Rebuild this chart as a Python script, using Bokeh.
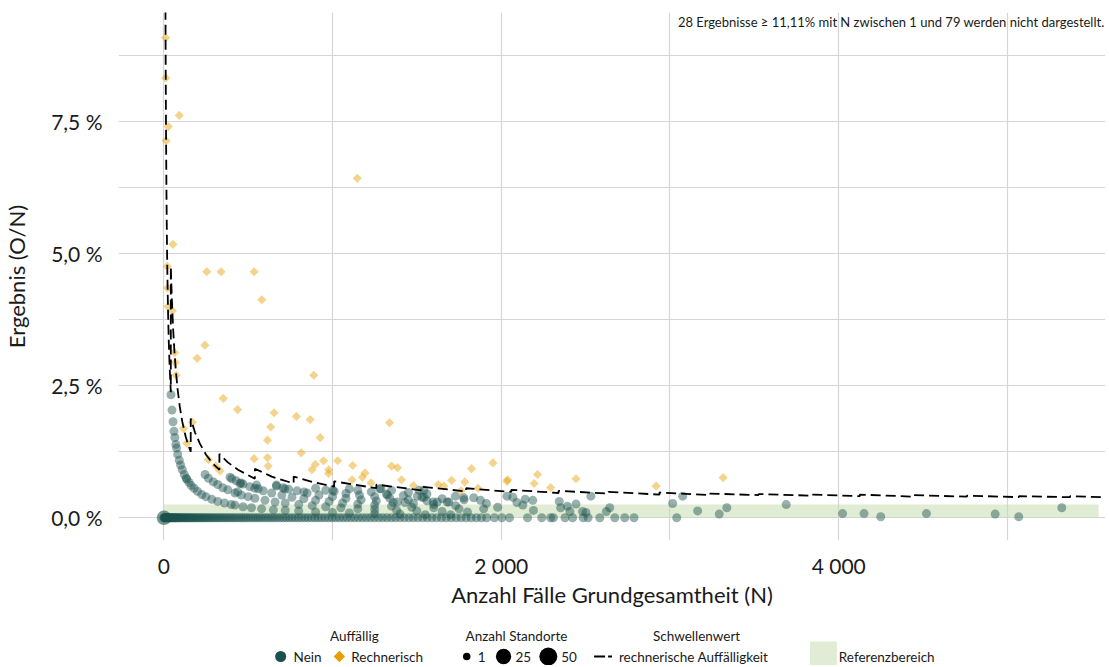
from bokeh.plotting import figure
from bokeh.models import Range1d, FixedTicker, Label, CustomJSTickFormatter
from bokeh.layouts import column
from bokeh.embed import file_html
from bokeh.resources import INLINE
from bokeh.core.properties import value
import math

# ---------------- data ----------------
# "Nein" (not conspicuous) results: N and result in %
nein_zero_n = [1, 3, 5, 8, 10, 13, 16, 19, 22, 26, 30, 33, 37, 41, 45, 50, 54, 59, 63, 68,
               73, 78, 84, 89, 95, 101, 107, 113, 120, 127, 133, 140, 148, 155, 163, 170, 178,
               186, 195, 203, 212, 221, 230, 239, 249, 258, 268, 278, 289, 299, 310, 321, 333,
               344, 356, 368, 380, 393, 405, 418, 431, 445, 458, 472, 486, 500, 515, 530, 545,
               560, 575, 591, 607, 623, 640, 656, 673, 690, 708, 725, 743, 761, 780, 798, 817,
               836, 855, 875, 895, 915, 935, 956, 977, 998, 1020, 1041, 1063, 1085, 1108, 1131,
               1154, 1177, 1201, 1225, 1249, 1274, 1298, 1323, 1349, 1374, 1400, 1426, 1453,
               1479, 1506, 1534, 1561, 1589, 1617, 1646, 1674, 1703, 1733, 1762, 1792, 1822,
               1853, 1883, 1914, 1960, 2004, 2049, 2156, 2240, 2293, 2309, 2378, 2423, 2486,
               2515, 2584, 2673, 2732, 2787, 3040]
nein_zero_pct = [0, 0, 0, 0, 0, 0, 0, 0, 0, 0, 0, 0, 0, 0, 0, 0, 0, 0, 0, 0,
                 0, 0, 0, 0, 0, 0, 0, 0, 0, 0, 0, 0, 0, 0, 0, 0, 0,
                 0, 0, 0, 0, 0, 0, 0, 0, 0, 0, 0, 0, 0, 0, 0, 0,
                 0, 0, 0, 0, 0, 0, 0, 0, 0, 0, 0, 0, 0, 0, 0, 0,
                 0, 0, 0, 0, 0, 0, 0, 0, 0, 0, 0, 0, 0, 0, 0, 0,
                 0, 0, 0, 0, 0, 0, 0, 0, 0, 0, 0, 0, 0, 0, 0,
                 0, 0, 0, 0, 0, 0, 0, 0, 0, 0, 0, 0, 0,
                 0, 0, 0, 0, 0, 0, 0, 0, 0, 0, 0, 0, 0,
                 0, 0, 0, 0, 0, 0, 0, 0, 0, 0, 0, 0, 0,
                 0, 0, 0, 0, 0, 0]

nein_n = [43, 49, 55, 61, 66, 72, 76, 83, 92, 100, 110, 122, 133, 137, 150, 163, 180, 200, 226,
          250, 285, 320, 360, 400, 422, 470, 520, 580, 650, 720, 800, 900, 1000, 1100, 1250,
          1400, 1550, 1700,
          245, 265, 294, 320, 350, 380, 422, 460, 500, 540, 600, 660, 720, 800, 880, 960, 1050,
          1150, 1250, 1380, 1500, 1650, 1800,
          403, 430, 470, 510, 540, 590, 640, 700, 760, 830, 900, 980, 1060, 1150, 1250, 1350,
          1470, 1600, 1750,
          668, 707, 740, 790, 850, 920, 1000, 1080, 1170, 1260, 1360, 1480, 1600, 1730,
          900, 960, 1010, 1080, 1160, 1250, 1340, 1450, 1560, 1690,
          1100, 1150, 1230, 1320, 1420, 1530, 1650, 1780,
          1280, 1350, 1450, 1560,
          393, 452, 550, 668, 717, 831, 1002, 1287, 1326, 1513, 1542, 438, 458, 560,
          1385, 1430, 1503, 1542, 1597, 1621, 1680, 1729, 1778, 1837, 1877, 1896, 1912, 1979,
          2034, 2069, 2093, 2128, 2142, 2187, 2191, 2344, 2352, 2392, 2407, 2443, 2482, 2502,
          2531, 2623, 2643, 3016, 3075, 3164, 3292, 3337, 3689, 4023, 4150, 4249, 4520, 4927,
          5067, 5322]
nein_pct = [2.33, 2.04, 1.82, 1.64, 1.52, 1.39, 1.32, 1.20, 1.09, 1.00, 0.91, 0.82, 0.75, 0.73,
            0.67, 0.61, 0.56, 0.50, 0.44, 0.40, 0.35, 0.31, 0.28, 0.25, 0.24, 0.21, 0.19, 0.17,
            0.15, 0.14, 0.13, 0.11, 0.10, 0.09, 0.08, 0.07, 0.06, 0.06,
            0.82, 0.75, 0.68, 0.63, 0.57, 0.53, 0.47, 0.43, 0.40, 0.37, 0.33, 0.30, 0.28, 0.25,
            0.23, 0.21, 0.19, 0.17, 0.16, 0.14, 0.13, 0.12, 0.11,
            0.74, 0.70, 0.64, 0.59, 0.56, 0.51, 0.47, 0.43, 0.39, 0.36, 0.33, 0.31, 0.28, 0.26,
            0.24, 0.22, 0.20, 0.19, 0.17,
            0.60, 0.57, 0.54, 0.51, 0.47, 0.43, 0.40, 0.37, 0.34, 0.32, 0.29, 0.27, 0.25, 0.23,
            0.56, 0.52, 0.50, 0.46, 0.43, 0.40, 0.37, 0.34, 0.32, 0.30,
            0.55, 0.52, 0.49, 0.45, 0.42, 0.39, 0.36, 0.34,
            0.55, 0.52, 0.48, 0.45,
            0.77, 0.65, 0.62, 0.62, 0.55, 0.49, 0.52, 0.55, 0.43, 0.52, 0.39, 0.49, 0.66, 0.55,
            0.30, 0.29, 0.41, 0.52, 0.30, 0.30, 0.30, 0.41, 0.38, 0.38, 0.33, 0.17, 0.27, 0.20,
            0.41, 0.39, 0.29, 0.24, 0.35, 0.33, 0.14, 0.31, 0.19, 0.22, 0.12, 0.26, 0.12, 0.10,
            0.41, 0.12, 0.19, 0.27, 0.41, 0.13, 0.07, 0.19, 0.25, 0.08, 0.08, 0.02, 0.08, 0.07,
            0.02, 0.19]

# results shared by many sites (Anzahl Standorte)
multi_n = [2]
multi_pct = [0.0]
multi_sites = [20]

# "Rechnerisch" (conspicuous) results
rech_n = [11, 12, 27, 14, 92, 55, 21, 255, 340, 536, 581, 23, 25, 51, 244, 198, 64, 68, 74,
          353, 438, 889, 1147, 654, 786, 868, 634, 615, 927, 815, 536, 615, 619, 878, 898, 947,
          1031, 1120, 978, 977, 1193, 1177, 1116, 1228, 1338, 1350, 1385, 1409, 1480, 1627,
          1660, 1706, 1762, 1784, 1824, 1863, 1951, 2034, 2038, 2195, 2215, 2293, 2443, 2918,
          3315, 265, 308, 334, 117, 137, 170]
rech_pct = [9.09, 8.33, 7.41, 7.14, 7.62, 5.18, 4.76, 4.66, 4.66, 4.66, 4.13, 4.35, 4.00, 3.92,
            3.27, 3.02, 3.13, 2.94, 2.70, 2.26, 2.05, 2.70, 6.43, 1.99, 1.92, 1.86, 1.72, 1.47,
            1.52, 1.23, 1.12, 1.14, 0.98, 0.91, 1.01, 1.08, 1.08, 0.99, 0.91, 0.84, 0.85, 0.77,
            0.72, 0.66, 1.80, 0.98, 0.95, 0.72, 0.61, 0.63, 0.60, 0.71, 0.51, 0.68, 0.93, 0.56,
            1.04, 0.69, 0.72, 0.65, 0.82, 0.57, 0.74, 0.60, 0.76, 1.10, 0.98, 0.89, 1.69, 1.41,
            1.81]

# threshold "rechnerische Auffälligkeit" (step-wise)
thr_n = [10.4, 11, 12, 13, 14, 16, 18, 20, 23, 26, 30, 35, 42,
         42, 46, 50, 56, 63, 72, 82, 95, 110, 130, 145, 160,
         160, 185, 215, 250, 290, 330,
         330, 380, 440, 540,
         540, 640, 770,
         770, 880, 1010,
         1010, 1260, 1260, 1525, 1525, 1792, 1792, 2060, 2060, 2340, 2340, 2635, 2635, 2938,
         2938, 3228, 3228, 3525, 3525, 3828, 3828, 4125, 4125, 4445, 4445, 4760, 4760, 5068,
         5068, 5371, 5371, 5560]
thr_pct = [9.62, 9.09, 8.33, 7.69, 7.14, 6.25, 5.56, 5.00, 4.35, 3.85, 3.33, 2.86, 2.38,
           4.76, 4.35, 4.00, 3.57, 3.17, 2.78, 2.44, 2.11, 1.82, 1.54, 1.38, 1.25,
           1.88, 1.62, 1.40, 1.20, 1.03, 0.91,
           1.21, 1.05, 0.91, 0.74,
           0.93, 0.78, 0.65,
           0.78, 0.68, 0.59,
           0.69, 0.56, 0.63, 0.52, 0.59, 0.50, 0.56, 0.49, 0.53, 0.47, 0.51, 0.46, 0.49, 0.44,
           0.48, 0.43, 0.46, 0.43, 0.45, 0.42, 0.44, 0.41, 0.44, 0.40, 0.43, 0.40, 0.42, 0.39,
           0.41, 0.39, 0.41, 0.39]

# reference range (Referenzbereich)
ref_n = [0, 5540]
ref_pct = [0.0, 0.25]

x_ticks = [0, 2000, 4000]
x_minor = [1000, 3000, 5000]
y_ticks = [0, 2.5, 5.0, 7.5]
y_minor = [1.25, 3.75, 6.25, 8.75]

note_text = "28 Ergebnisse ≥ 11,11% mit N zwischen 1 und 79 werden nicht dargestellt."

# ---------------- style ----------------
FONT = "Lato"
TEAL = "#1b514d"
ORANGE = "#E69F00"
GREEN = "#c9ddb1"
GRID = "#d6d6d6"
TXT = "#1a1a1a"

def site_size(s):
    return 9 + 9 * math.sqrt((s - 1) / 49.0)

x_start, x_end = -268, 5581
y_start, y_end = -0.43, 9.57
FL, FR = 113, 1105   # frame left / right in page pixels
MH = 610

p = figure(width=1109, height=MH, x_range=Range1d(x_start, x_end),
           y_range=Range1d(y_start, y_end), output_backend="svg", toolbar_location=None,
           min_border_left=FL, min_border_right=1109 - FR, min_border_top=12,
           min_border_bottom=MH - 540)
p.outline_line_color = None
p.background_fill_color = "white"
p.border_fill_color = "white"

xt = FixedTicker(ticks=x_ticks, minor_ticks=x_minor)
yt = FixedTicker(ticks=y_ticks, minor_ticks=y_minor)
p.xaxis.ticker = xt
p.yaxis.ticker = yt
p.xgrid.ticker = xt
p.ygrid.ticker = yt
for g in (p.xgrid, p.ygrid):
    g.grid_line_color = GRID
    g.grid_line_width = 1.2
    g.minor_grid_line_color = GRID
    g.minor_grid_line_width = 1.2

p.xaxis.formatter = CustomJSTickFormatter(
    code="return Math.round(tick).toString().replace(/\\B(?=(\\d{3})+(?!\\d))/g, ' ');")
p.yaxis.formatter = CustomJSTickFormatter(
    code="return tick.toFixed(1).replace('.', ',') + ' %';")

for ax in (p.xaxis, p.yaxis):
    ax.axis_line_color = None
    ax.major_tick_line_color = None
    ax.minor_tick_line_color = None
    ax.major_tick_out = 0
    ax.minor_tick_out = 0
    ax.major_label_text_font = FONT
    ax.major_label_text_font_size = "21px"
    ax.major_label_text_color = TXT
    ax.axis_label_text_font = FONT
    ax.axis_label_text_font_size = "22px"
    ax.axis_label_text_font_style = "normal"
    ax.axis_label_text_color = TXT

p.xaxis.axis_label = "Anzahl Fälle Grundgesamtheit (N)"
p.yaxis.axis_label = "Ergebnis (O/N)"
p.xaxis.major_label_standoff = 12
p.xaxis.axis_label_standoff = 0
p.yaxis.major_label_standoff = 16
p.yaxis.axis_label_standoff = 18

# reference band
p.quad(left=[ref_n[0]], right=[ref_n[1]], bottom=[ref_pct[0]], top=[ref_pct[1]],
       fill_color=GREEN, fill_alpha=0.55, line_color=None)

# points
p.scatter(nein_zero_n, nein_zero_pct, marker="circle", size=9, fill_color=TEAL,
          fill_alpha=0.45, line_color=None)
p.scatter(nein_n, nein_pct, marker="circle", size=9, fill_color=TEAL,
          fill_alpha=0.45, line_color=None)
p.scatter(multi_n, multi_pct, marker="circle", size=[site_size(s) for s in multi_sites],
          fill_color=TEAL, fill_alpha=0.6, line_color=None)
p.scatter(rech_n, rech_pct, marker="square", angle=math.pi / 4, size=6.5,
          fill_color=ORANGE, fill_alpha=0.45, line_color=None)

# threshold
p.line(thr_n, thr_pct, line_color="black", line_width=1.8, line_dash="10 5")

p.add_layout(Label(x=x_end, y=9.385, text=note_text, text_align="right",
                   text_baseline="middle", text_font=FONT, text_font_size="13px",
                   text_color=TXT, x_offset=-1))

# ---------------- legend (separate strip, page-pixel coordinates) ----------------
LH = 665 - MH
lg = figure(width=1109, height=LH, x_range=Range1d(FL, FR), y_range=Range1d(LH, 0),
            output_backend="svg", toolbar_location=None, x_axis_location=None,
            y_axis_location=None, min_border_left=FL, min_border_right=1109 - FR,
            min_border_top=0, min_border_bottom=0)
lg.grid.visible = False
lg.outline_line_color = None
lg.background_fill_color = "white"
lg.border_fill_color = "white"

TY, IY = 635 - MH, 656 - MH
LFS = "13.5px"
DX = -3
lg.text(x=[353 + DX, 516 + DX, 697 + DX], y=[TY, TY, TY],
        text=["Auffällig", "Anzahl Standorte", "Schwellenwert"],
        text_font=value(FONT), text_font_size=LFS, text_align="center",
        text_baseline="middle", text_color=TXT)
lg.text(x=[v + DX for v in [292, 350, 477, 515, 561, 619, 840]],
        y=[IY] * 7,
        text=["Nein", "Rechnerisch", "1", "25", "50", "rechnerische Auffälligkeit", "Referenzbereich"],
        text_font=value(FONT), text_font_size=LFS, text_align="left",
        text_baseline="middle", text_color=TXT)
lg.scatter([279 + DX], [IY], marker="circle", size=11, fill_color=TEAL, line_color=None)
lg.scatter([338 + DX], [IY], marker="square", angle=math.pi / 4, size=8, fill_color=ORANGE,
           line_color=None)
lg.scatter([466 + DX, 503 + DX, 548 + DX], [IY, IY, IY], marker="circle",
           size=[site_size(1) - 1.5, site_size(25), site_size(50)],
           fill_color="black", line_color=None)
lg.segment(x0=[594 + DX], y0=[IY], x1=[612 + DX], y1=[IY], line_color="black", line_width=2,
           line_dash="11 3 4 20")
lg.quad(left=[811 + DX], right=[838 + DX], top=[641 - MH], bottom=[LH], fill_color=GREEN,
        fill_alpha=0.55, line_color=None)

layout = column(p, lg, spacing=0)
open("out.html", "w").write(file_html(layout, INLINE))
